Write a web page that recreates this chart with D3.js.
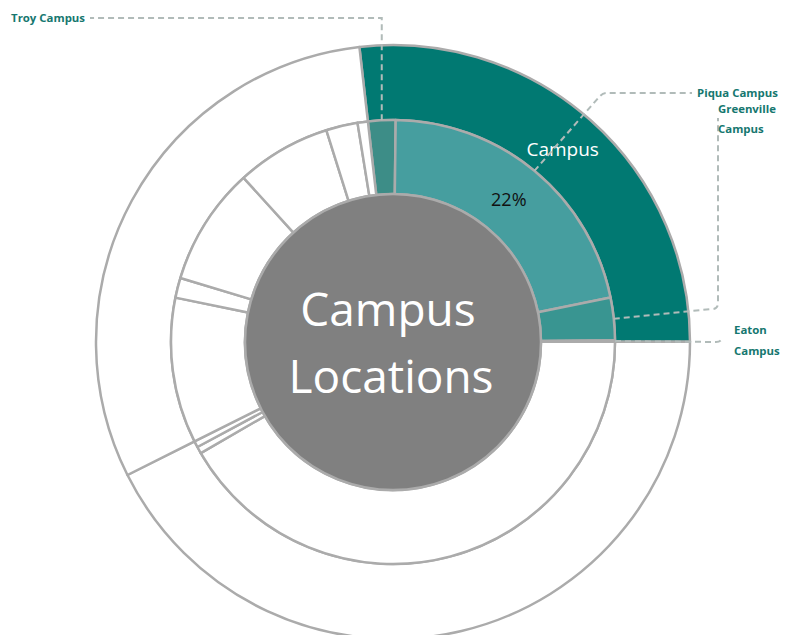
<!DOCTYPE html>
<html>
<head>
<meta charset="utf-8">
<script src="https://cdn.jsdelivr.net/npm/d3@7"></script>
<style>
  html, body { margin: 0; padding: 0; background: #ffffff; }
  svg { display: block; }
  text { font-family: "Open Sans", "Noto Sans", sans-serif; }
</style>
</head>
<body>
<svg id="chart" width="790" height="635"></svg>
<script>
// ---------- data ----------
const rootName = "Campus Locations";
const groupNames = ["Campus", "Online", "Off-Campus"];
const campusNames = ["Troy Campus", "Piqua Campus", "Greenville Campus", "Eaton Campus"];
const campusValues = [2.0, 21.6, 3.1, 0.1];
const onlineNames = ["Online A", "Online B", "Online C"];
const onlineValues = [41.7, 0.5, 0.45];
const offNames = ["Off A", "Off B", "Off C", "Off D", "Off E", "Off F"];
const offValues = [10.6, 1.45, 8.6, 6.9, 2.3, 0.75];
const labelledNames = ["Troy Campus", "Piqua Campus", "Greenville Campus", "Eaton Campus"];
const percentLabel = "22%";

// ---------- layout ----------
const cx = 393, cy = 342;
const rCore = 148, rMid = 222, rOuter = 297;
const startOffset = -6.5 * Math.PI / 180;

const svg = d3.select("#chart");
const g = svg.append("g").attr("transform", `translate(${cx},${cy})`);

const childLists = [
  campusNames.map((n, i) => ({ name: n, value: campusValues[i] })),
  onlineNames.map((n, i) => ({ name: n, value: onlineValues[i] })),
  offNames.map((n, i) => ({ name: n, value: offValues[i] }))
];
const treeData = {
  name: rootName,
  children: groupNames.map((n, i) => ({ name: n, children: childLists[i] }))
};

const root = d3.hierarchy(treeData).sum(d => d.value || 0);
d3.partition().size([2 * Math.PI, 3])(root);

const radius = d => d.depth === 1 ? [rMid, rOuter] : [rCore, rMid];

const fillColor = {
  "Campus": "#017972",
  "Troy Campus": "#3d8d87",
  "Piqua Campus": "#469e9f",
  "Greenville Campus": "#399591",
  "Eaton Campus": "#399591"
};

const arc = d3.arc()
  .startAngle(d => d.x0 + startOffset)
  .endAngle(d => d.x1 + startOffset)
  .innerRadius(d => radius(d)[0])
  .outerRadius(d => radius(d)[1]);

const nodes = root.descendants().filter(d => d.depth > 0);

g.selectAll("path.seg")
  .data(nodes)
  .join("path")
  .attr("class", "seg")
  .attr("d", arc)
  .attr("fill", d => fillColor[d.data.name] || "#ffffff")
  .attr("stroke", "#ababab")
  .attr("stroke-width", 2.5)
  .attr("stroke-linejoin", "round");

// center circle
g.append("circle")
  .attr("r", rCore)
  .attr("fill", "#808080")
  .attr("stroke", "#ababab")
  .attr("stroke-width", 2.5);

g.append("text")
  .attr("text-anchor", "middle")
  .attr("fill", "#ffffff")
  .attr("font-size", 46)
  .selectAll("tspan")
  .data(["Campus", "Locations"])
  .join("tspan")
  .attr("x", (d, i) => i === 0 ? -5 : -2)
  .attr("y", (d, i) => i === 0 ? -16 : 51)
  .text(d => d);

// segment labels
const campusNode = nodes.find(d => d.data.name === "Campus");
const piquaNode = nodes.find(d => d.data.name === "Piqua Campus");
const c1 = arc.centroid(campusNode);
g.append("text")
  .attr("x", c1[0] - 3).attr("y", c1[1] + 8)
  .attr("text-anchor", "middle")
  .attr("fill", "#ffffff")
  .attr("font-size", 19)
  .text(campusNode.data.name);
const c2 = arc.centroid(piquaNode);
g.append("text")
  .attr("x", c2[0] - 2).attr("y", c2[1] + 7)
  .attr("text-anchor", "middle")
  .attr("fill", "#111111")
  .attr("font-size", 18)
  .text(percentLabel);

// leader lines (absolute coords)
const lead = svg.append("g");
function edgePoint(name) {
  const n = nodes.find(d => d.data.name === name);
  const a = (n.x0 + n.x1) / 2 + startOffset;
  return [cx + rMid * Math.sin(a), cy - rMid * Math.cos(a)];
}
const lineStyle = sel => sel
  .attr("fill", "none")
  .attr("stroke", "#b1bbb9")
  .attr("stroke-width", 2)
  .attr("stroke-dasharray", "6,4");

const pT = edgePoint("Troy Campus");
lead.append("path").call(lineStyle)
  .attr("d", `M${pT[0]},${pT[1]} L${pT[0]},18 L90,18`);
const pP = edgePoint("Piqua Campus");
lead.append("path").call(lineStyle)
  .attr("d", `M${pP[0]},${pP[1]} L600,96 Q603,93 607,93 L692,93`);
const pG = edgePoint("Greenville Campus");
lead.append("path").call(lineStyle)
  .attr("d", `M${pG[0]},${pG[1]} L712,309 Q718,309 718,303 L718,118`);
const pE = edgePoint("Eaton Campus");
lead.append("path").call(lineStyle)
  .attr("d", `M${pE[0]},${pE[1]} L716,342 Q721,342 722,338`);

const labelColor = "#16776f";
const lab = svg.append("g")
  .attr("fill", labelColor)
  .attr("font-size", 11.4)
  .attr("font-weight", "bold");
lab.append("text").attr("x", 85).attr("y", 22).attr("text-anchor", "end").text(labelledNames[0]);
lab.append("text").attr("x", 697).attr("y", 97).text(labelledNames[1]);
lab.append("text").attr("x", 718).attr("y", 113).text("Greenville");
lab.append("text").attr("x", 718).attr("y", 133).text("Campus");
lab.append("text").attr("x", 734).attr("y", 334).text("Eaton");
lab.append("text").attr("x", 734).attr("y", 355).text("Campus");
</script>
</body>
</html>
